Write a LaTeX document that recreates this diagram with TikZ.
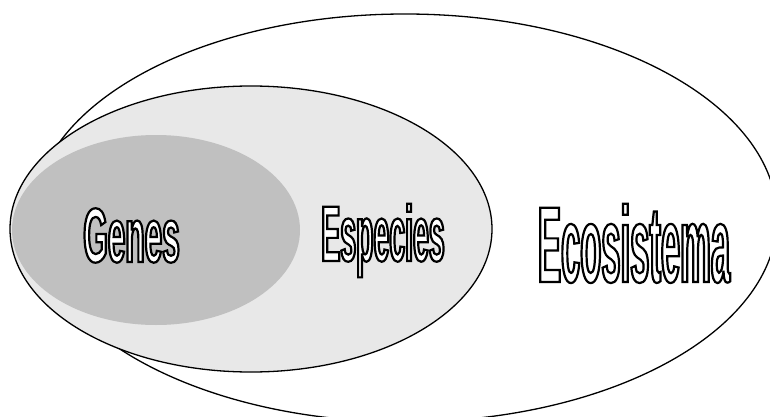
\documentclass[tikz,border=0pt]{standalone}
\usepackage{fontspec}
\newfontfamily\genesfont[FakeStretch=0.41]{Liberation Sans Bold}
\newfontfamily\especiesfont[FakeStretch=0.36]{Liberation Sans Bold}
\newfontfamily\ecofont[FakeStretch=0.32]{Liberation Sans Bold}
\definecolor{especiesgray}{HTML}{E8E8E8}
\definecolor{genesgray}{HTML}{C0C0C0}
\tikzset{
  ring/.style={draw=black, line width=1.3pt},
  label/.style={inner sep=0pt, anchor=base},
}
\newcommand{\outlined}[1]{{\color{white}\special{pdf:literal direct 2 Tr 2.2 w 0 G}#1\special{pdf:literal direct 0 Tr}}}
\begin{document}
\begin{tikzpicture}[x=1pt, y=-1pt]
  \useasboundingbox (0,0) rectangle (770,417);
  \fill[white] (0,0) rectangle (770,417);
  % outer ellipse
  \draw[ring, fill=white] (405,218) ellipse [x radius=372, y radius=204];
  % species ellipse
  \draw[ring, fill=especiesgray] (251,229) ellipse [x radius=241, y radius=143];
  % genes ellipse
  \fill[genesgray] (156,230) ellipse [x radius=144, y radius=95];
  % labels
  \node[label, font=\genesfont\fontsize{77}{77}\selectfont] (genes) at (131.5,262) {\outlined{Genes}};
  \node[label, font=\especiesfont\fontsize{79}{79}\selectfont] (especies) at (383,261) {\outlined{Especies}};
  \node[label, font=\ecofont\fontsize{108}{108}\selectfont] (eco) at (634,282) {\outlined{Ecosistema}};
\end{tikzpicture}
\end{document}
